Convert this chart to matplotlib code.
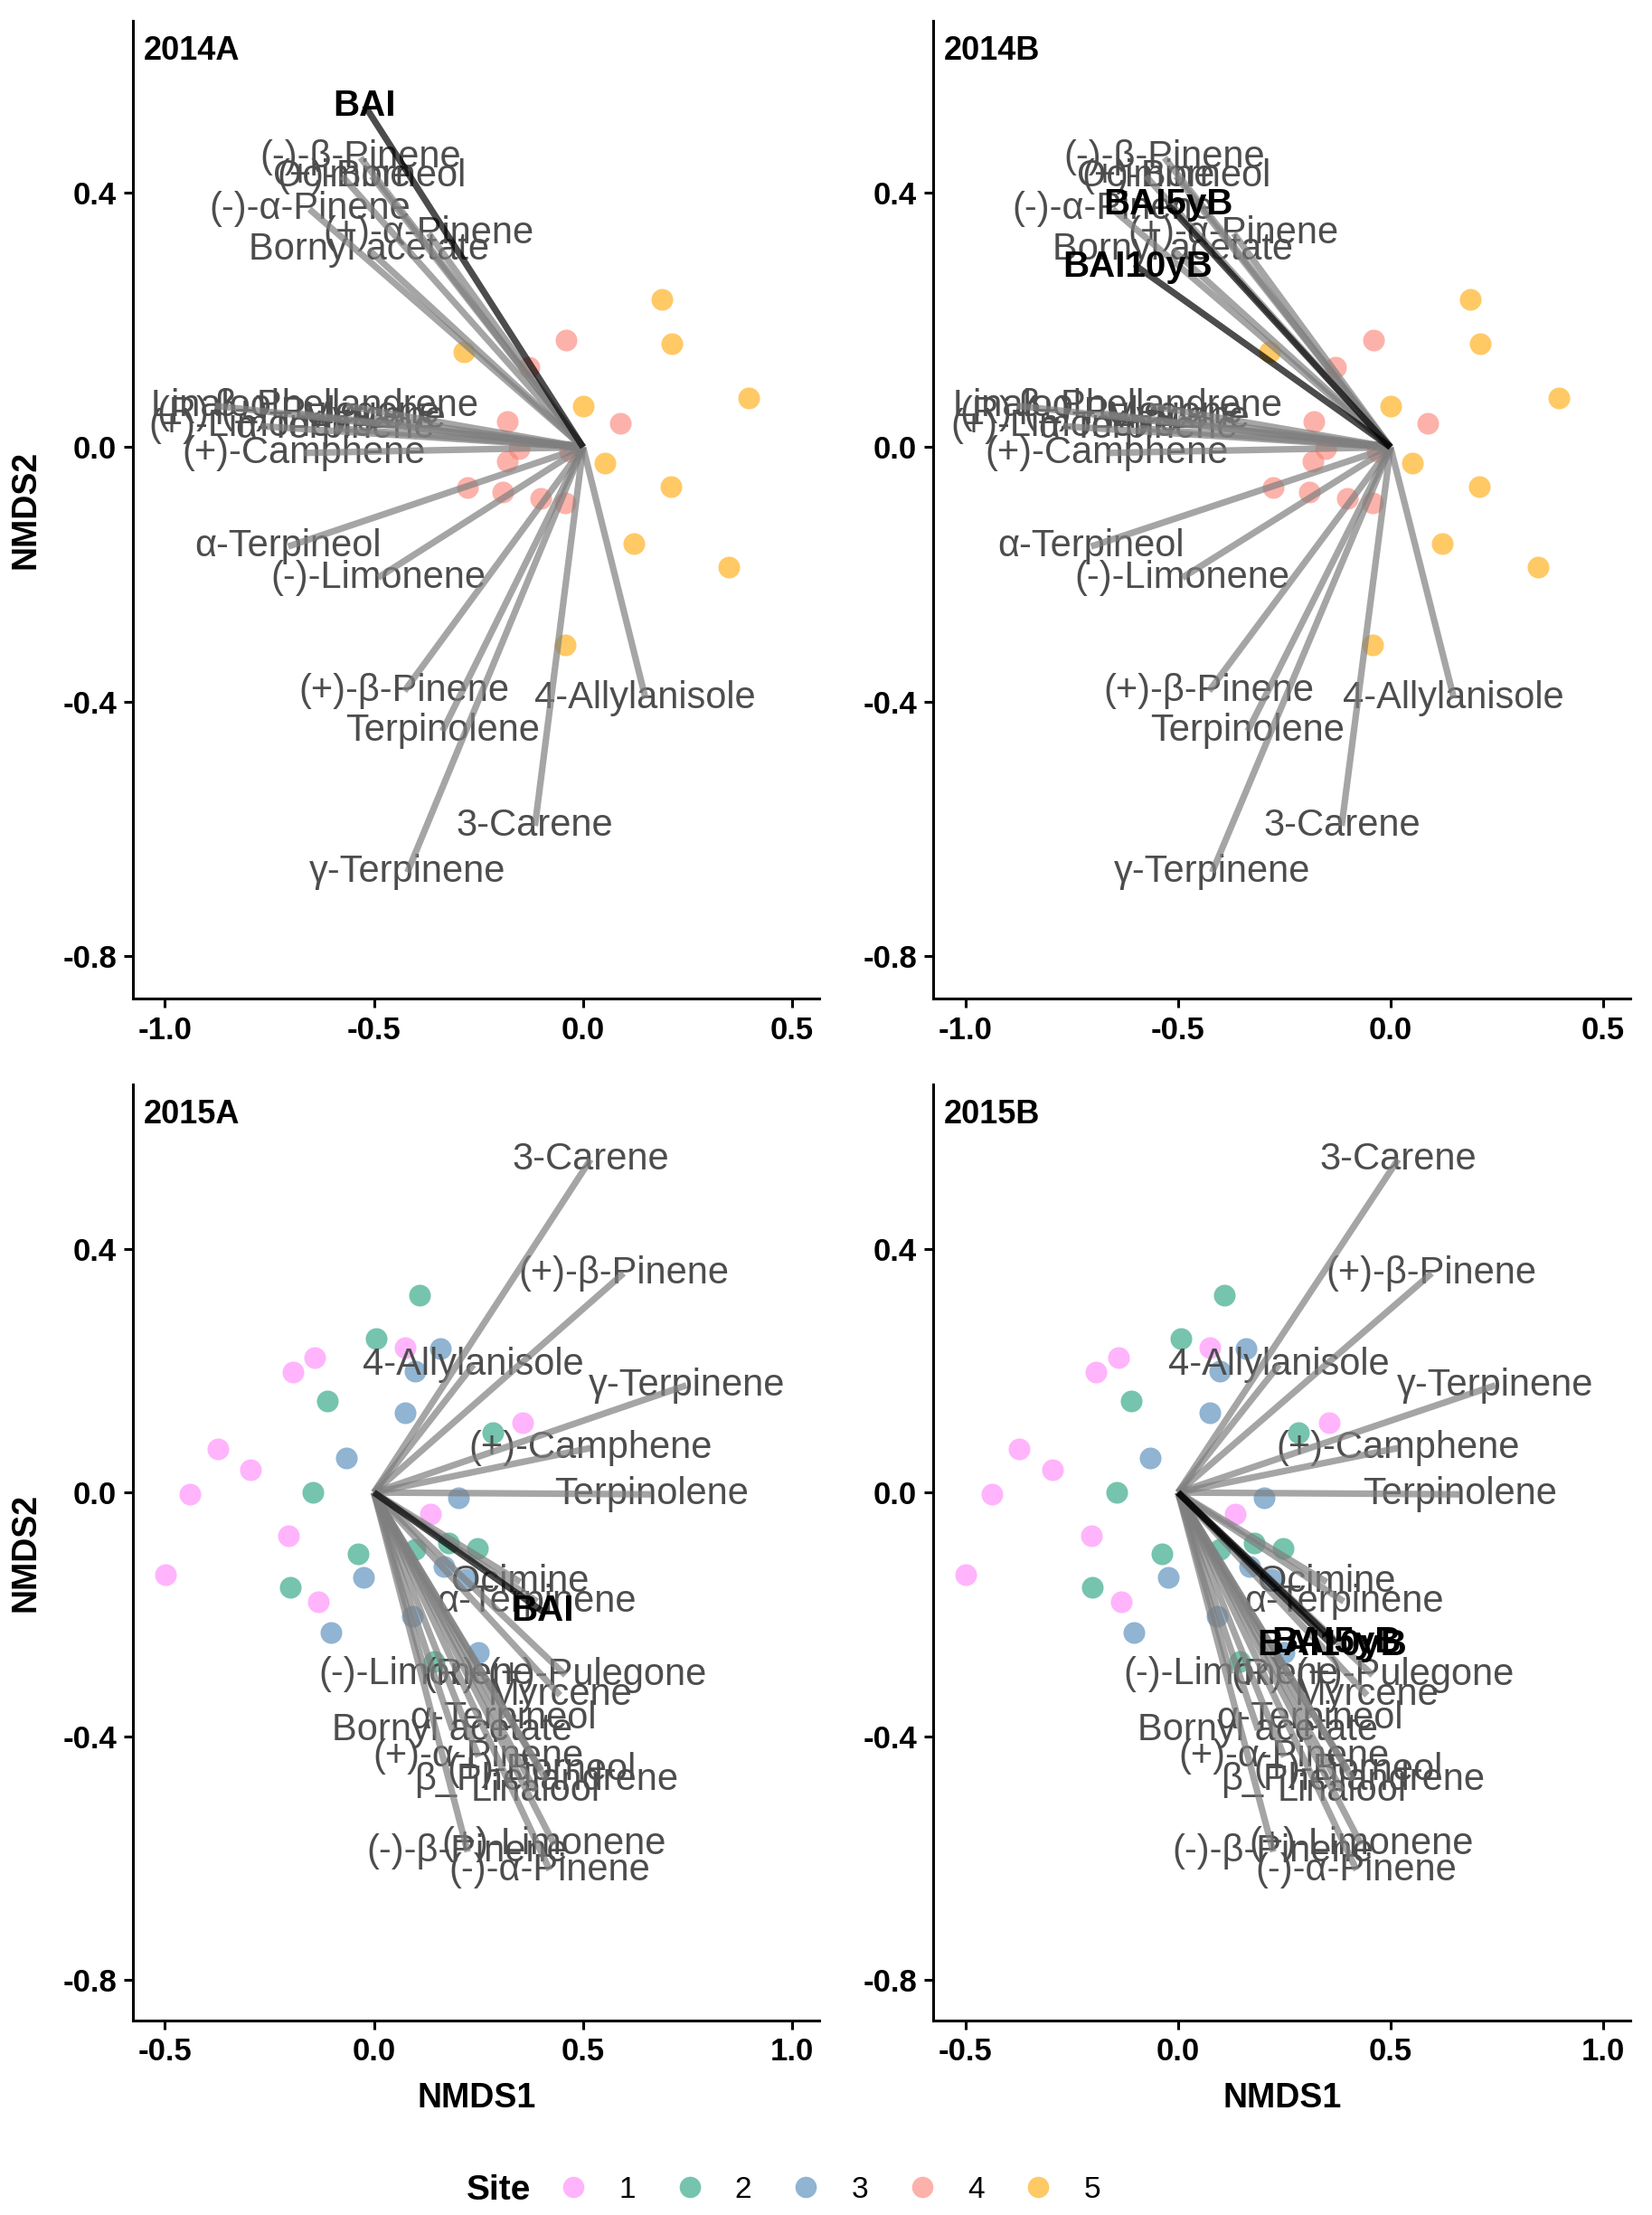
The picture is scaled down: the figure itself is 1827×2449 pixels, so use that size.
import matplotlib
matplotlib.use("Agg")
import matplotlib.pyplot as plt
from matplotlib.lines import Line2D

plt.rcParams['font.family'] = ['Liberation Sans', 'DejaVu Sans']

# ---------------- data ----------------
# 2014 species vectors (NMDS1, NMDS2 end points)
sp14_names = ["(-)-β-Pinene", "Ocimine", "(+)-Borneol", "(-)-α-Pinene", "(+)-α-Pinene",
              "Bornyl acetate", "β_Phellandrene", "Linalool", "(R)-(+)-Pulegone",
              "(+)-Limonene", "α-Terpinene", "Myrcene", "(+)-Camphene", "α-Terpineol",
              "(-)-Limonene", "(+)-β-Pinene", "Terpinolene", "4-Allylanisole",
              "3-Carene", "γ-Terpinene"]
sp14_x = [-0.532, -0.576, -0.505, -0.654, -0.369, -0.512, -0.566, -0.879, -0.680,
          -0.770, -0.594, -0.500, -0.668, -0.705, -0.490, -0.427, -0.336, 0.149,
          -0.115, -0.420]
sp14_y = [0.455, 0.426, 0.426, 0.374, 0.336, 0.310, 0.065, 0.065, 0.053,
          0.033, 0.030, 0.046, -0.009, -0.156, -0.205, -0.383, -0.446, -0.394,
          -0.595, -0.668]

# 2015 species vectors
sp15_names = ["3-Carene", "(+)-β-Pinene", "4-Allylanisole", "γ-Terpinene", "(+)-Camphene",
              "Terpinolene", "Ocimine", "α-Terpinene", "(-)-Limonene", "(R)-(+)-Pulegone",
              "Myrcene", "α-Terpineol", "Bornyl acetate", "(+)-α-Pinene", "β_Phellandrene",
              "(+)-Borneol", "Linalool", "(-)-β-Pinene", "(+)-Limonene", "(-)-α-Pinene"]
sp15_x = [0.518, 0.597, 0.238, 0.747, 0.518, 0.664, 0.350, 0.390, 0.124, 0.458,
          0.445, 0.310, 0.188, 0.250, 0.412, 0.400, 0.386, 0.224, 0.431, 0.420]
sp15_y = [0.547, 0.360, 0.210, 0.176, 0.073, -0.003, -0.147, -0.179, -0.298, -0.300,
          -0.333, -0.371, -0.390, -0.434, -0.472, -0.456, -0.490, -0.590, -0.578, -0.620]

# growth (BAI) vectors per panel
bai_2014A_names = ["BAI"]
bai_2014A_x = [-0.522]
bai_2014A_y = [0.537]
bai_2014B_names = ["BAI5yB", "BAI10yB"]
bai_2014B_x = [-0.524, -0.595]
bai_2014B_y = [0.381, 0.283]
bai_2015A_names = ["BAI"]
bai_2015A_x = [0.403]
bai_2015A_y = [-0.195]
bai_2015B_names = ["BAI5yB", "BAI10yB"]
bai_2015B_x = [0.372, 0.362]
bai_2015B_y = [-0.247, -0.250]

# site scores 2014
site4_x = [-0.041, -0.130, -0.181, 0.088, -0.153, -0.182, -0.032, -0.277, -0.191, -0.101, -0.042]
site4_y = [0.168, 0.125, 0.041, 0.037, -0.002, -0.022, -0.007, -0.064, -0.070, -0.080, -0.088]
site5_x = [0.188, 0.212, 0.396, 0.000, 0.052, 0.209, -0.284, 0.121, 0.348, -0.042]
site5_y = [0.232, 0.162, 0.078, 0.064, -0.025, -0.062, 0.150, -0.151, -0.189, -0.310]

# site scores 2015
site1_x = [-0.141, -0.193, -0.374, -0.296, -0.439, 0.075, 0.355, 0.134, -0.204, -0.499, -0.134]
site1_y = [0.221, 0.198, 0.071, 0.037, -0.003, 0.238, 0.114, -0.036, -0.071, -0.135, -0.179]
site2_x = [0.109, 0.006, -0.111, 0.284, -0.145, -0.037, 0.098, 0.178, 0.248, -0.201, 0.144]
site2_y = [0.324, 0.253, 0.151, 0.099, 0.000, -0.101, -0.093, -0.083, -0.092, -0.156, -0.278]
site3_x = [0.159, 0.098, 0.075, -0.066, 0.202, 0.168, 0.220, -0.024, -0.103, 0.092, 0.250]
site3_y = [0.236, 0.199, 0.131, 0.057, -0.009, -0.121, -0.143, -0.140, -0.230, -0.203, -0.262]

site_labels = ["1", "2", "3", "4", "5"]
site_colors = ["#FF83FA", "#1B9E77", "#4682B4", "#FA8072", "#FFA500"]

panel_titles = ["2014A", "2014B", "2015A", "2015B"]

# ---------------- figure ----------------
fig = plt.figure(figsize=(9.135, 12.245), dpi=200)

pos = {
    "2014A": [0.0805, 0.549, 0.4155, 0.4416],
    "2014B": [0.565, 0.549, 0.422, 0.4416],
    "2015A": [0.0805, 0.0878, 0.4155, 0.4226],
    "2015B": [0.565, 0.0878, 0.422, 0.4226],
}

PT_ALPHA = 0.6
PT_SIZE = 75
SEG_COL = "#7f7f7f"
SEG_ALPHA = 0.7
SEG_LW = 2.6
LAB_COL = "#4D4D4D"
LAB_FS = 15


def draw_panel(ax, title, names, xs, ys, bnames, bxs, bys, sites, xlim, xticks, left, bottom):
    for (sx, sy, col) in sites:
        ax.scatter(sx, sy, s=PT_SIZE, color=col, alpha=PT_ALPHA, linewidths=0, zorder=2)
    for n, x, y in zip(names, xs, ys):
        ax.text(x, y, n, ha="center", va="center", fontsize=LAB_FS, color=LAB_COL, zorder=3)
    for x, y in zip(xs, ys):
        ax.plot([0, x], [0, y], color=SEG_COL, alpha=SEG_ALPHA, lw=SEG_LW,
                solid_capstyle="butt", zorder=4)
    for x, y in zip(bxs, bys):
        ax.plot([0, x], [0, y], color="black", alpha=SEG_ALPHA, lw=SEG_LW,
                solid_capstyle="butt", zorder=4)
    for n, x, y in zip(bnames, bxs, bys):
        ax.text(x, y, n, ha="center", va="center", fontsize=14.5, color="black",
                fontweight="bold", zorder=5)
    ax.set_xlim(*xlim)
    ax.set_ylim(-0.867, 0.670)
    ax.set_xticks(xticks, [f"{t:.1f}" for t in xticks], fontweight="bold", fontsize=12.5)
    yt = [-0.8, -0.4, 0.0, 0.4]
    ax.set_yticks(yt, [f"{t:.1f}" for t in yt], fontweight="bold", fontsize=12.5)
    for s in ["top", "right"]:
        ax.spines[s].set_visible(False)
    for s in ["left", "bottom"]:
        ax.spines[s].set_linewidth(1.1)
    ax.tick_params(width=1.1, length=3.5, colors="black", pad=3)
    ax.text(0.015, 0.985, title, transform=ax.transAxes, ha="left", va="top",
            fontsize=13, fontweight="bold")
    if left:
        ax.set_ylabel("NMDS2", fontsize=13.5, fontweight="bold", labelpad=8)
    if bottom:
        ax.set_xlabel("NMDS1", fontsize=13.5, fontweight="bold", labelpad=6)


sites14 = [(site4_x, site4_y, site_colors[3]), (site5_x, site5_y, site_colors[4])]
sites15 = [(site1_x, site1_y, site_colors[0]), (site2_x, site2_y, site_colors[1]),
           (site3_x, site3_y, site_colors[2])]

xt_top = [-1.0, -0.5, 0.0, 0.5]
xt_bot = [-0.5, 0.0, 0.5, 1.0]

ax = fig.add_axes(pos["2014A"])
draw_panel(ax, "2014A", sp14_names, sp14_x, sp14_y, bai_2014A_names, bai_2014A_x, bai_2014A_y,
           sites14, (-1.076, 0.565), xt_top, True, False)
ax = fig.add_axes(pos["2014B"])
draw_panel(ax, "2014B", sp14_names, sp14_x, sp14_y, bai_2014B_names, bai_2014B_x, bai_2014B_y,
           sites14, (-1.076, 0.565), xt_top, False, False)
ax = fig.add_axes(pos["2015A"])
draw_panel(ax, "2015A", sp15_names, sp15_x, sp15_y, bai_2015A_names, bai_2015A_x, bai_2015A_y,
           sites15, (-0.576, 1.065), xt_bot, True, True)
ax = fig.add_axes(pos["2015B"])
draw_panel(ax, "2015B", sp15_names, sp15_x, sp15_y, bai_2015B_names, bai_2015B_x, bai_2015B_y,
           sites15, (-0.576, 1.065), xt_bot, False, True)

# legend
handles = [Line2D([], [], marker="o", linestyle="none", markersize=8.5, markeredgewidth=0,
                  color=c, alpha=PT_ALPHA) for c in site_colors]
fig.text(0.302, 0.0112, "Site", ha="center", va="center", fontsize=14, fontweight="bold")
fig.legend(handles, site_labels, loc="center left", bbox_to_anchor=(0.338, 0.0112),
           ncol=5, frameon=False, fontsize=12, handlelength=1.0, handletextpad=1.0,
           columnspacing=1.3, borderpad=0, borderaxespad=0)

fig.savefig("out.png", dpi=200)
